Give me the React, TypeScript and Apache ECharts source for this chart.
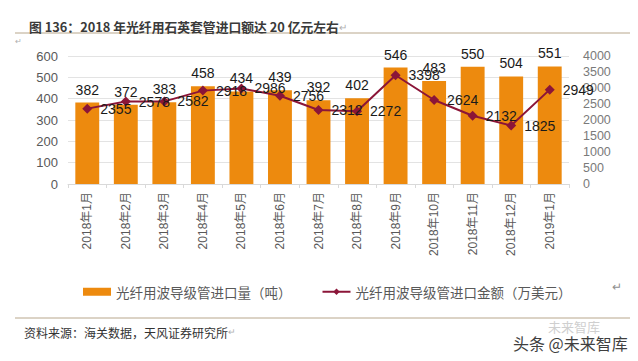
import React, { useEffect, useRef } from "react";
import * as echarts from "echarts";

const categories = [
  "2018年1月", "2018年2月", "2018年3月", "2018年4月", "2018年5月", "2018年6月",
  "2018年7月", "2018年8月", "2018年9月", "2018年10月", "2018年11月", "2018年12月", "2019年1月",
];
const volumeTons = [382, 372, 383, 458, 434, 439, 392, 402, 546, 483, 550, 504, 551];
const amountWanUSD = [2355, 2578, 2582, 2918, 2986, 2756, 2312, 2272, 3398, 2624, 2132, 1825, 2949];

const volumeName = "光纤用波导级管进口量（吨）";
const amountName = "光纤用波导级管进口金额（万美元）";
const titleText = "图 136：2018 年光纤用石英套管进口额达 20 亿元左右";
const sourceText = "资料来源：海关数据，天风证券研究所";
const watermarkText = "头条 @未来智库";

const FONT = "'Liberation Sans', Arial, 'Noto Sans CJK SC', sans-serif";
const CJK = "'Noto Sans CJK SC', 'Liberation Sans', sans-serif";

export default function App() {
  const ref = useRef<HTMLDivElement>(null);
  useEffect(() => {
    if (!ref.current) return;
    const chart = echarts.init(ref.current, undefined, { renderer: "svg" });
    chart.setOption({
      animation: false,
      backgroundColor: "#ffffff",
      title: {
        text: titleText + "{r|↵}",
        left: 24,
        top: 15,
        textStyle: {
          fontFamily: CJK,
          fontSize: 12.8,
          fontWeight: "bold",
          color: "#3a3a3a",
          rich: { r: { fontSize: 10, color: "#b0b0b0", fontWeight: "normal" } },
        },
      },
      grid: { left: 68, right: 69, top: 56, bottom: 177, containLabel: false },
      legend: {
        left: 78,
        top: 280,
        itemWidth: 28,
        itemHeight: 8,
        itemGap: 30,
        textStyle: { fontFamily: CJK, fontSize: 13.5, color: "#595959" },
        data: [
          { name: volumeName, icon: "rect" },
          { name: amountName },
        ],
      },
      xAxis: {
        type: "category",
        data: categories,
        axisLine: { lineStyle: { color: "#d9d9d9" } },
        axisTick: { show: true, length: 4, lineStyle: { color: "#d9d9d9" } },
        axisLabel: {
          rotate: 90,
          margin: 8,
          fontFamily: FONT,
          fontSize: 12,
          color: "#595959",
          interval: 0,
        },
      },
      yAxis: [
        {
          type: "value",
          min: 0,
          max: 600,
          interval: 100,
          axisLine: { show: false },
          axisTick: { show: false },
          axisLabel: { fontFamily: FONT, fontSize: 13, color: "#595959", margin: 10 },
          splitLine: { lineStyle: { color: "#e3e3e3" } },
        },
        {
          type: "value",
          min: 0,
          max: 4000,
          interval: 500,
          axisLine: { show: false },
          axisTick: { show: false },
          axisLabel: {
            fontFamily: FONT,
            fontSize: 12.5,
            color: "#7a7a7a",
            margin: 14,
            formatter: (v: number) => String(v),
          },
          splitLine: { show: false },
        },
      ],
      series: [
        {
          name: volumeName,
          type: "bar",
          data: volumeTons,
          barWidth: "62%",
          itemStyle: { color: "#ED8A0E" },
          label: {
            show: true,
            position: "top",
            distance: 6,
            fontFamily: FONT,
            fontSize: 14,
            color: "#1a1a1a",
          },
        },
        {
          name: amountName,
          type: "line",
          yAxisIndex: 1,
          data: amountWanUSD,
          symbol: "diamond",
          symbolSize: 10,
          lineStyle: { color: "#8B1538", width: 2 },
          itemStyle: { color: "#8B1538" },
          label: {
            show: true,
            position: "right",
            distance: 8,
            fontFamily: FONT,
            fontSize: 14,
            color: "#1a1a1a",
          },
          z: 5,
        },
      ],
      graphic: [
        {
          type: "line",
          shape: { x1: 15, y1: 33, x2: 630, y2: 33 },
          style: { stroke: "#b8a78c", lineWidth: 1 },
        },
        {
          type: "text",
          left: 15,
          top: 37,
          style: { text: "↵", fontSize: 8, fill: "#b0b0b0" },
        },
        {
          type: "text",
          left: 612,
          top: 281,
          style: { text: "↵", fontSize: 12, fill: "#909090" },
        },
        {
          type: "line",
          shape: { x1: 15, y1: 318, x2: 630, y2: 318 },
          style: { stroke: "#b8a78c", lineWidth: 1 },
        },
        {
          type: "text",
          left: 24,
          top: 326,
          style: {
            text: sourceText + "{r|↵}",
            font: "12px 'Noto Sans CJK SC', sans-serif",
            fill: "#333333",
            rich: { r: { fontSize: 9, fill: "#b0b0b0" } },
          } as any,
        },
        {
          type: "text",
          left: 548,
          top: 320,
          style: { text: "未来智库", font: "13px 'Noto Sans CJK SC', sans-serif", fill: "#cfcfcf" },
        },
        {
          type: "text",
          left: 512,
          top: 334,
          style: {
            text: watermarkText,
            font: "16px 'Noto Sans CJK SC', sans-serif",
            fill: "#3f3f3f",
            stroke: "#ffffff",
            lineWidth: 2,
          },
        },
      ],
    });
    return () => chart.dispose();
  }, []);
  return (
    <div
      ref={ref}
      style={{ position: "fixed", left: 0, top: 0, width: 638, height: 361 }}
    />
  );
}
